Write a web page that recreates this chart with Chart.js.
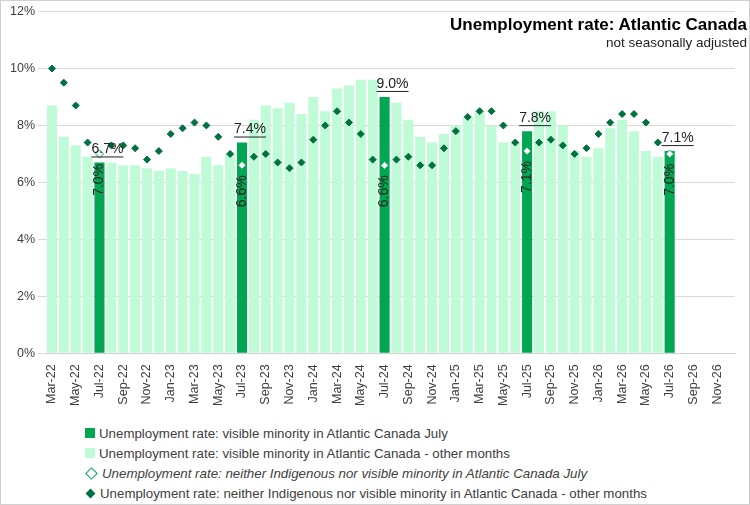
<!DOCTYPE html>
<html><head><meta charset="utf-8">
<script src="https://cdn.jsdelivr.net/npm/chart.js@4"></script>
<style>
body{margin:0;background:#fff;font-family:"Liberation Sans",Arial,sans-serif;}
#wrap{position:relative;width:748px;height:503px;border:1px solid #d0d0d0;}
#c{position:absolute;left:0;top:0;}
#title{position:absolute;right:2px;top:14px;text-align:right;}
#title .t{font-weight:bold;font-size:17px;color:#000;}
#title .s{font-size:13.5px;color:#222;}
#legend{position:absolute;left:84px;top:422px;font-size:13.3px;color:#404040;}
#legend div{height:20px;display:flex;align-items:center;}
.sw{width:10px;height:10px;margin-right:4px;display:inline-block;}
.dm{width:7px;height:7px;transform:rotate(45deg);margin:0 6px 0 2px;display:inline-block;}
</style></head><body>
<div id="wrap">
<canvas id="c" width="748" height="410"></canvas>
<div id="title"><div class="t">Unemployment rate: Atlantic Canada</div><div class="s">not seasonally adjusted</div></div>
<div id="legend">
<div><span class="sw" style="background:#00A651"></span>Unemployment rate: visible minority in Atlantic Canada July</div>
<div><span class="sw" style="background:#C0FBD8"></span>Unemployment rate: visible minority in Atlantic Canada - other months</div>
<div><span class="dm" style="border:1px solid #00A651;background:#fff"></span><i>Unemployment rate: neither Indigenous nor visible minority in Atlantic Canada July</i></div>
<div><span class="dm" style="background:#00703C"></span>Unemployment rate: neither Indigenous nor visible minority in Atlantic Canada - other months</div>
</div>
</div>
<script>
const months=["Jan","Feb","Mar","Apr","May","Jun","Jul","Aug","Sep","Oct","Nov","Dec"];
const categories=[];
for(let y=22;y<=26;y++)for(let m=0;m<12;m++){if(y===22&&m<2)continue;categories.push(months[m]+"-"+y);}
const vmAll=[8.7,7.6,7.3,6.9,6.7,6.7,6.6,6.6,6.5,6.4,6.5,6.4,6.3,6.9,6.6,7.0,7.4,8.2,8.7,8.6,8.8,8.4,9.0,8.5,9.3,9.4,9.6,9.6,9.0,8.8,8.2,7.6,7.4,7.7,8.0,8.3,8.5,8.0,7.4,7.4,7.8,8.5,8.5,8.0,7.1,6.9,7.2,7.9,8.2,7.8,7.1,6.9,7.1];
const neitherAll=[10.0,9.5,8.7,7.4,7.0,7.3,7.3,7.2,6.8,7.1,7.7,7.9,8.1,8.0,7.6,7.0,6.6,6.9,7.0,6.7,6.5,6.7,7.5,8.0,8.5,8.1,7.7,6.8,6.6,6.8,6.9,6.6,6.6,7.2,7.8,8.3,8.5,8.5,8.0,7.4,7.1,7.4,7.5,7.3,7.0,7.2,7.7,8.1,8.4,8.4,8.1,7.4,7.0];
const yTicks=[0,2,4,6,8,10,12];
const isJul=i=>categories[i].startsWith("Jul");
const vmJul=categories.map((c,i)=>isJul(i)&&vmAll[i]!=null?vmAll[i]:null);
const vmOther=categories.map((c,i)=>!isJul(i)&&vmAll[i]!=null?vmAll[i]:null);
const nJul=categories.map((c,i)=>isJul(i)&&neitherAll[i]!=null?neitherAll[i]:null);
const nOther=categories.map((c,i)=>!isJul(i)&&neitherAll[i]!=null?neitherAll[i]:null);
const FONT='"Liberation Sans",Arial,sans-serif';
const labelPlugin={id:'lbl',afterDatasetsDraw(chart){
 const ctx=chart.ctx,x=chart.scales.x,y=chart.scales.y;
 ctx.save();
 vmJul.forEach((v,i)=>{if(v==null)return;
  const px=x.getPixelForValue(i),py=y.getPixelForValue(v);
  ctx.font='14px '+FONT;ctx.fillStyle='#222';ctx.textAlign='center';ctx.textBaseline='bottom';
  const t=v.toFixed(1)+'%';const w=ctx.measureText(t).width;
  let lx=px+8,ly=py-6;
  ctx.fillText(t,lx,ly);
  ctx.fillRect(lx-w/2,ly,w,1);
  const n=nJul[i];
  ctx.save();ctx.translate(px,y.getPixelForValue(n)+10);ctx.rotate(-Math.PI/2);
  ctx.textAlign='right';ctx.textBaseline='middle';ctx.fillStyle='#222';ctx.font='14px '+FONT;
  ctx.fillText(n.toFixed(1)+'%',0,0);ctx.restore();
 });
 ctx.restore();}};
new Chart(document.getElementById('c'),{
 type:'bar',
 data:{labels:categories,datasets:[
  {type:'line',data:nJul,showLine:false,pointStyle:'rectRot',pointRadius:4,pointBackgroundColor:'#fff',pointBorderColor:'#00A651',pointBorderWidth:1,order:0},
  {type:'line',data:nOther,showLine:false,pointStyle:'rectRot',pointRadius:3.5,pointBackgroundColor:'#00703C',pointBorderColor:'#00703C',order:1},
  {data:vmJul,backgroundColor:'#00A651',grouped:false,barPercentage:0.85,categoryPercentage:1,order:2},
  {data:vmOther,backgroundColor:'#C0FBD8',grouped:false,barPercentage:0.85,categoryPercentage:1,order:3}
 ]},
 options:{responsive:false,animation:false,
  layout:{padding:{top:4,right:14,left:6,bottom:2}},
  plugins:{legend:{display:false},tooltip:{enabled:false}},
  scales:{
   x:{grid:{display:false},border:{color:'#d0d0d0'},
      ticks:{autoSkip:false,maxRotation:90,minRotation:90,color:'#404040',font:{size:12.5,family:FONT},
        callback:(v,i)=>i%2===0?categories[i]:''}},
   y:{min:0,max:12,afterBuildTicks:s=>{s.ticks=yTicks.map(v=>({value:v}));},
      grid:{color:'#d9d9d9'},border:{display:false},
      ticks:{color:'#404040',font:{size:12.5,family:FONT},callback:v=>v+'%'}}
  }},
 plugins:[labelPlugin]
});
</script></body></html>
